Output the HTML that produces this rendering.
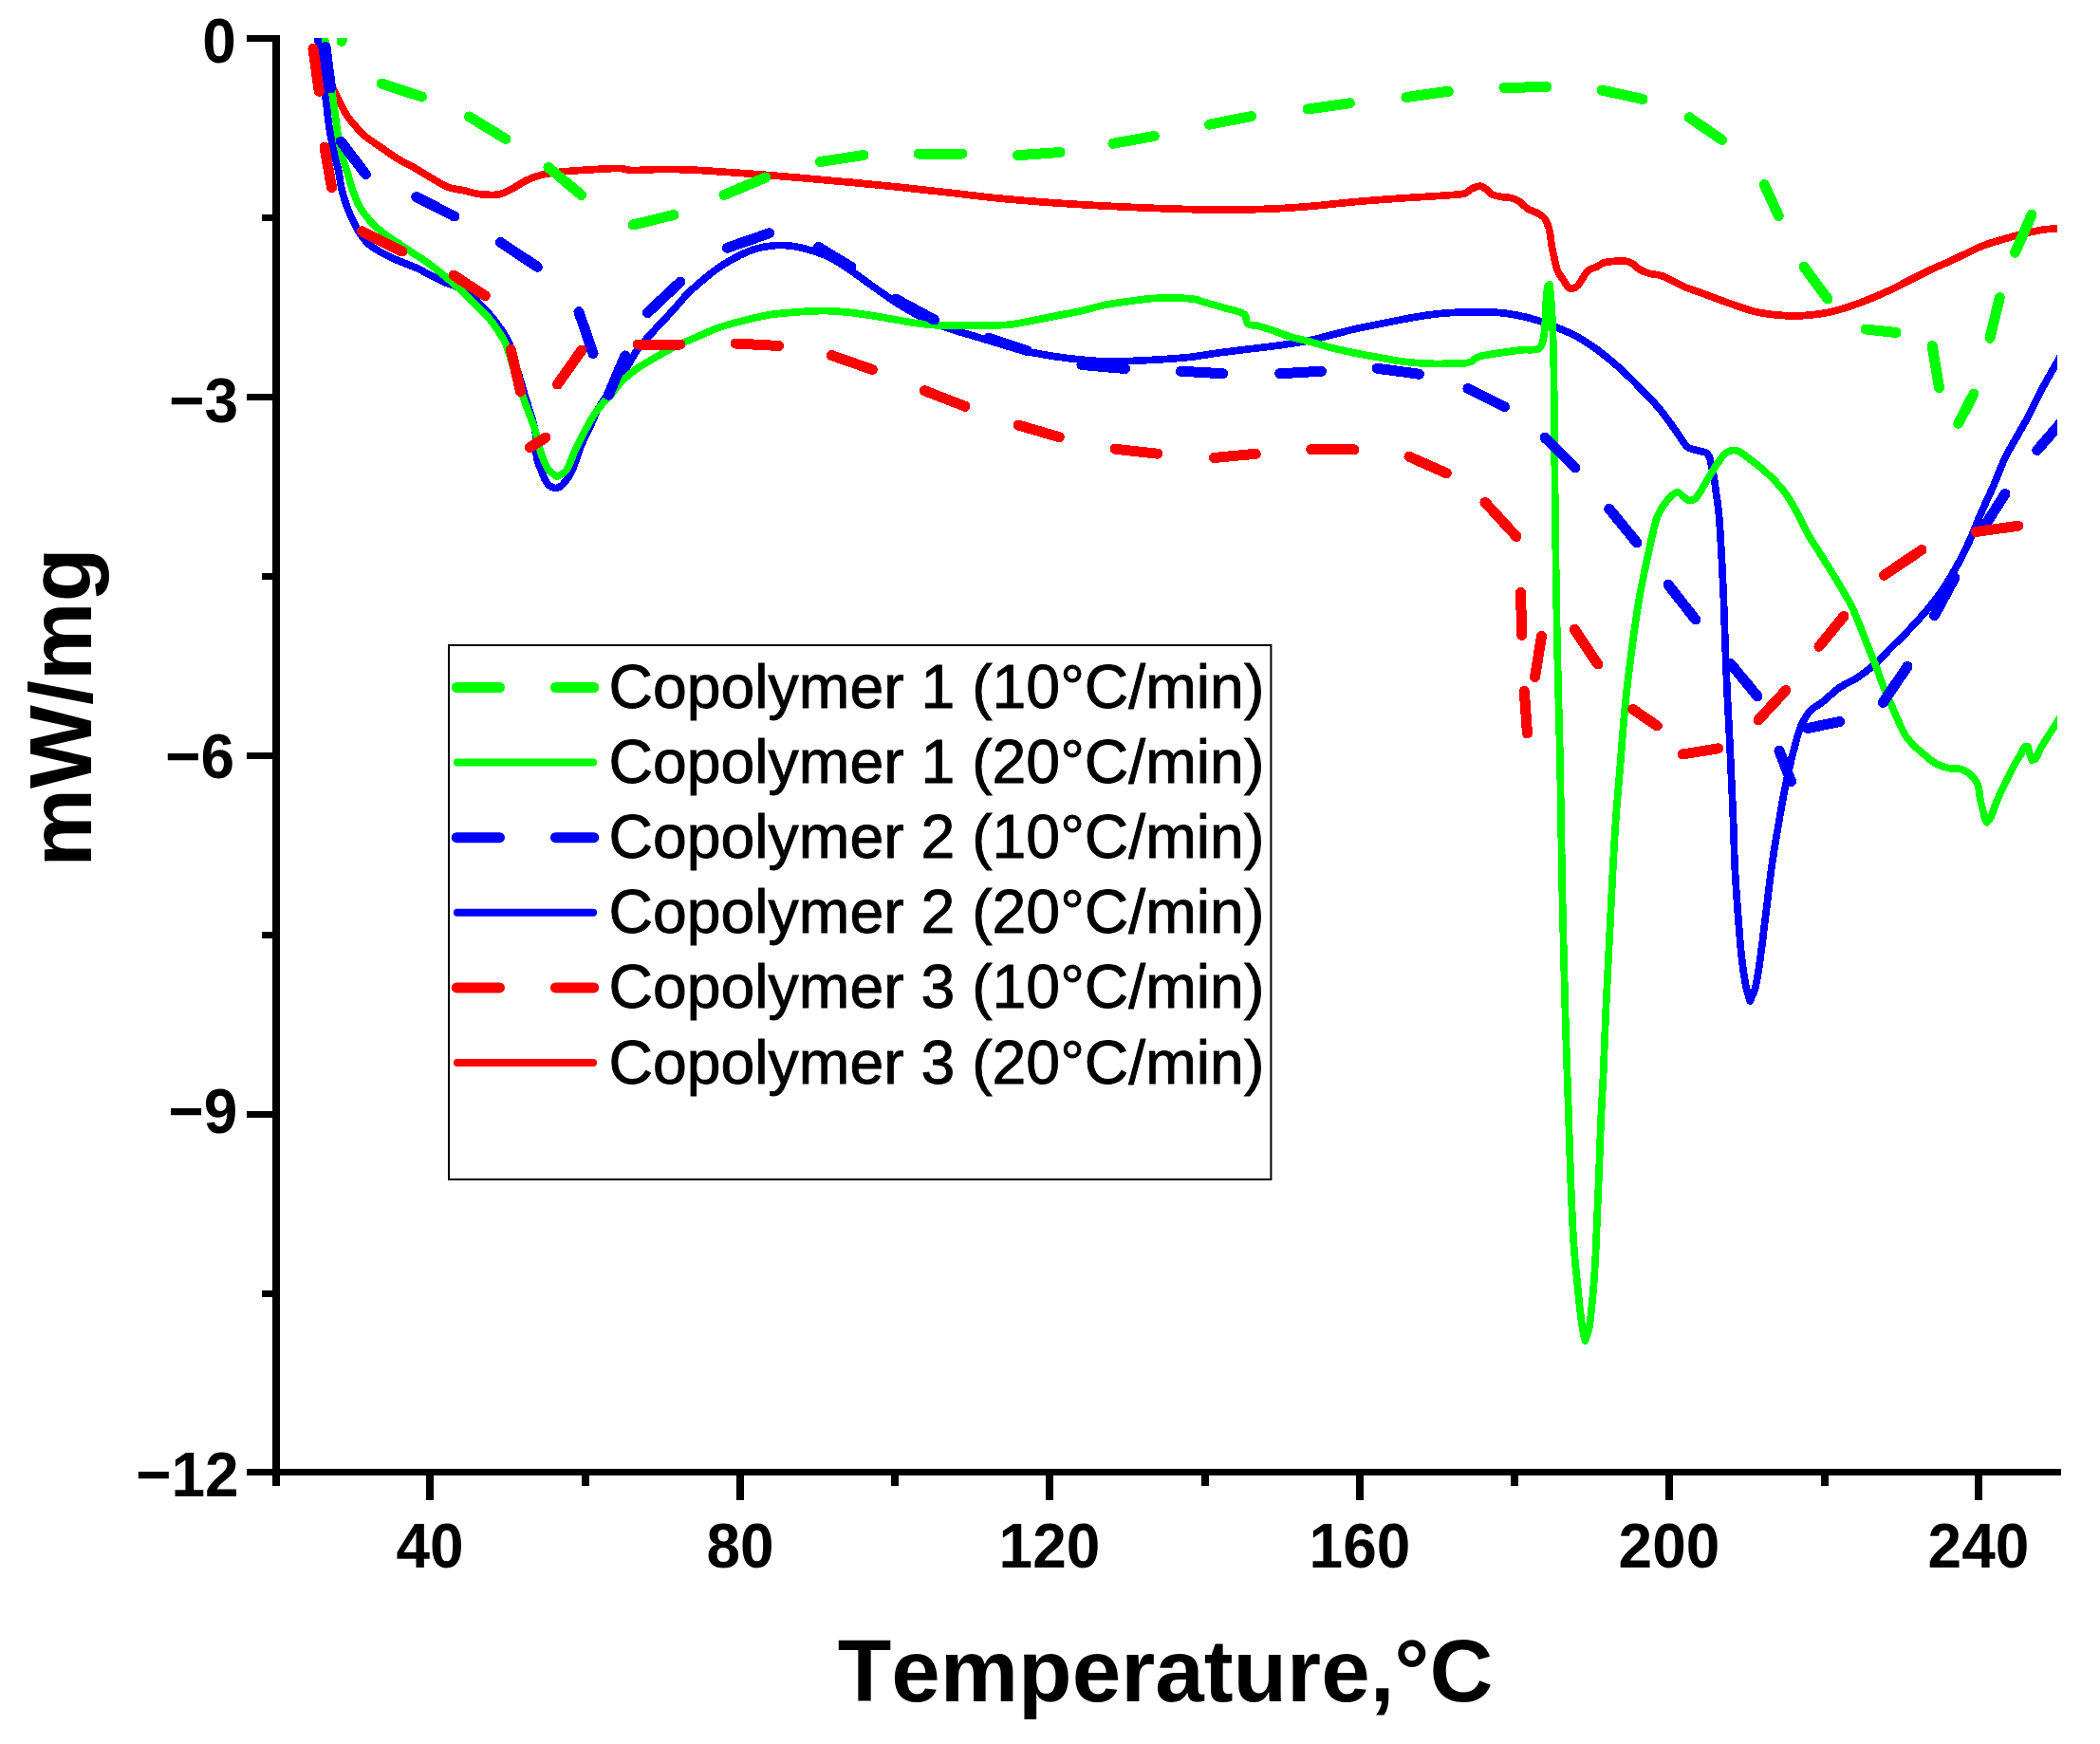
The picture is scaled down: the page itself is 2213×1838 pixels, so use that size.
<!DOCTYPE html>
<html lang="en"><head><meta charset="utf-8"><title>DSC curves</title>
<style>html,body{margin:0;padding:0;background:#fff}svg{display:block}text{font-family:"Liberation Sans",Arial,Helvetica,sans-serif;fill:#000;font-kerning:none}.b{font-weight:bold}</style></head><body>
<svg width="2213" height="1838" viewBox="0 0 2213 1838">
<rect width="2213" height="1838" fill="#fff"/>
<defs><clipPath id="pc"><rect x="291" y="40" width="1877" height="1512"/></clipPath></defs>
<g clip-path="url(#pc)" shape-rendering="crispEdges">
<path d="M337.5 30 C337.67 33.33 337.6 36.69 338 40 C338.6 45.03 339.49 50.03 340.5 55 C341.66 60.7 343.01 66.37 344.5 72 C346.18 78.34 347.78 84.73 350 90.9 C351.39 94.76 353.51 98.31 355.3 102 C356.68 104.84 358.01 107.71 359.5 110.5 C361.81 114.82 363.93 119.27 366.7 123.3 C369.52 127.4 372.86 131.11 376.2 134.8 C379.2 138.12 382.29 141.39 385.7 144.3 C388.65 146.81 392.02 148.79 395.2 151 C398.39 153.22 401.61 155.38 404.8 157.6 C407.98 159.81 411.05 162.18 414.3 164.3 C417.39 166.32 420.57 168.21 423.8 170 C426.91 171.72 430.19 173.09 433.3 174.8 C436.56 176.59 439.7 178.59 442.9 180.5 C446.07 182.39 449.23 184.3 452.4 186.2 C455.57 188.1 458.68 190.09 461.9 191.9 C465.38 193.86 468.71 196.23 472.5 197.5 C477.33 199.12 482.52 199.43 487.5 200.5 C493.35 201.76 499.06 203.79 505 204.5 C511.62 205.29 518.4 205.98 525 205 C529.88 204.28 534.33 201.71 538.75 199.5 C544.36 196.69 549.34 192.72 555 190 C559.8 187.7 564.83 185.79 570 184.5 C576.55 182.86 583.29 181.99 590 181.25 C599.97 180.15 609.99 179.59 620 179 C631.24 178.34 642.49 177.37 653.75 177.5 C657.56 177.54 661.19 179.41 665 179.5 C675 179.74 684.99 178.58 695 178.5 C705.83 178.41 716.67 178.58 727.5 179 C738.35 179.42 749.17 180.29 760 181 C773.34 181.87 786.68 182.71 800 183.75 C816.68 185.05 833.34 186.54 850 188 C866.67 189.46 883.34 190.92 900 192.5 C916.67 194.08 933.34 195.75 950 197.5 C966.68 199.25 983.34 201.13 1000 203 C1016.67 204.88 1033.31 207.08 1050 208.75 C1066.64 210.41 1083.32 211.75 1100 213 C1116.66 214.25 1133.33 215.29 1150 216.25 C1166.66 217.21 1183.33 218.04 1200 218.75 C1216.66 219.46 1233.33 220.05 1250 220.5 C1264.16 220.88 1278.33 221.33 1292.5 221.25 C1309.17 221.16 1325.84 220.71 1342.5 220 C1355.02 219.46 1367.52 218.57 1380 217.5 C1396.69 216.07 1413.31 213.96 1430 212.5 C1446.65 211.04 1463.33 209.92 1480 208.75 C1496.66 207.58 1513.35 206.81 1530 205.5 C1534.61 205.14 1539.35 205.15 1543.75 203.75 C1546.61 202.84 1548.52 200.01 1551.25 198.75 C1554 197.48 1556.97 196.1 1560 196.25 C1562.35 196.37 1564.33 198.15 1566.25 199.5 C1568.52 201.09 1570.01 203.77 1572.5 205 C1575.58 206.52 1579.12 206.87 1582.5 207.5 C1585.8 208.12 1589.25 207.88 1592.5 208.75 C1595.57 209.57 1598.58 210.78 1601.25 212.5 C1604.48 214.58 1606.76 217.93 1610 220 C1613.08 221.97 1616.83 222.69 1620 224.5 C1622.69 226.04 1625.65 227.52 1627.5 230 C1629.95 233.29 1631.42 237.29 1632.5 241.25 C1633.94 246.54 1634.06 252.1 1635 257.5 C1635.73 261.69 1636.56 265.86 1637.5 270 C1638.64 275.03 1639.34 280.21 1641.25 285 C1642.71 288.65 1645.37 291.69 1647.5 295 C1649.12 297.53 1650.46 300.29 1652.5 302.5 C1653.46 303.54 1654.84 304.68 1656.25 304.5 C1658.58 304.21 1660.8 302.87 1662.5 301.25 C1664.67 299.17 1665.79 296.22 1667.5 293.75 C1669.54 290.8 1671 287.29 1673.75 285 C1676.19 282.97 1679.65 282.65 1682.5 281.25 C1685.08 279.98 1687.27 277.9 1690 277 C1693.2 275.95 1696.64 275.8 1700 275.5 C1704.15 275.13 1708.35 274.59 1712.5 275 C1715.12 275.26 1717.72 276.17 1720 277.5 C1722.81 279.14 1724.71 282.08 1727.5 283.75 C1730.61 285.61 1734.02 286.98 1737.5 288 C1741.73 289.24 1746.3 289.14 1750.5 290.5 C1754.86 291.91 1758.87 294.27 1763 296.25 C1767.2 298.27 1771.2 300.71 1775.5 302.5 C1781.22 304.88 1787.18 306.62 1793 308.75 C1799.68 311.2 1806.32 313.8 1813 316.25 C1818.82 318.38 1824.62 320.54 1830.5 322.5 C1837.13 324.71 1843.69 327.18 1850.5 328.75 C1857.07 330.27 1863.8 331.04 1870.5 331.75 C1877.14 332.46 1883.82 332.96 1890.5 333 C1896.34 333.04 1902.19 332.58 1908 332 C1913.86 331.41 1919.72 330.66 1925.5 329.5 C1931.41 328.32 1937.24 326.77 1943 325 C1949.75 322.93 1956.42 320.56 1963 318 C1971.42 314.72 1979.79 311.28 1988 307.5 C1996.46 303.61 2004.66 299.15 2013 295 C2021.33 290.85 2029.58 286.56 2038 282.6 C2042.26 280.59 2046.7 279.01 2051 277.1 C2055.03 275.31 2059.01 273.38 2063 271.5 C2071.67 267.41 2080.09 262.75 2089 259.2 C2096.8 256.1 2104.97 254.03 2113 251.6 C2117.74 250.17 2122.51 248.84 2127.3 247.6 C2131.51 246.51 2135.74 245.48 2140 244.6 C2145.14 243.54 2150.29 242.49 2155.5 241.8 C2159.64 241.25 2163.83 241.16 2168 240.9 C2170.33 240.76 2172.67 240.7 2175 240.6" stroke="#ff0000" stroke-width="7.7" fill="none" stroke-linejoin="round" stroke-linecap="butt"/>
<path d="M334 30 C334.27 33.33 334.38 36.68 334.8 40 C337.58 62.09 340.74 84.12 343.6 106.2 C344.84 115.72 345.64 125.31 347.1 134.8 C348.57 144.35 350.39 153.85 352.4 163.3 C353.59 168.92 355.5 174.38 356.7 180 C358.04 186.29 358.52 192.74 360 199 C361.53 205.47 363.41 211.86 365.7 218.1 C367.85 223.95 370.5 229.62 373.3 235.2 C375.61 239.8 378.02 244.39 381 248.6 C383.45 252.07 386.27 255.34 389.5 258.1 C392.99 261.09 397.02 263.4 401 265.7 C405.3 268.18 409.79 270.32 414.3 272.4 C418.03 274.12 421.9 275.55 425.7 277.1 C430.46 279.05 435.34 280.72 440 282.9 C444.89 285.19 449.5 288.03 454.3 290.5 C458.7 292.76 463.07 295.12 467.6 297.1 C470.31 298.29 473.24 298.92 476 300 C478.71 301.06 481.43 302.13 484 303.5 C486.78 304.98 489.54 306.54 492 308.5 C496.73 312.26 501.16 316.39 505.5 320.6 C509.8 324.77 514.02 329.04 517.9 333.6 C521.46 337.79 524.75 342.23 527.8 346.8 C530.85 351.37 534.04 355.94 536.2 361 C538.94 367.42 540.35 374.33 542.4 381 C544.48 387.76 546.57 394.52 548.6 401.3 C550.77 408.52 552.79 415.79 555 423 C556.59 428.19 558.53 433.27 560 438.5 C561.63 444.28 563.53 450.04 564.3 456 C565.43 464.74 564.35 473.69 565.7 482.4 C566.44 487.15 568.71 491.54 570.5 496 C572.23 500.33 573.31 505.13 576.25 508.75 C578.54 511.57 581.87 514.35 585.5 514.5 C588.78 514.64 591.76 511.91 594 509.5 C597.65 505.58 600.46 500.86 602.7 496 C606.86 486.99 609.3 477.27 613.1 468.1 C615.8 461.59 619.25 455.41 622.2 449 C624.65 443.67 626.57 438.09 629.3 432.9 C631.85 428.06 634.93 423.52 638 419 C640.97 414.62 644.32 410.5 647.4 406.2 C651.48 400.5 655.71 394.9 659.5 389 C663.72 382.42 666.92 375.2 671.4 368.8 C675.05 363.59 679.59 359.06 683.8 354.3 C687.22 350.43 690.78 346.69 694.3 342.9 C699.05 337.79 703.91 332.77 708.6 327.6 C713.44 322.27 717.9 316.58 722.9 311.4 C727.41 306.74 732.17 302.32 737.1 298.1 C743.28 292.81 749.54 287.57 756.2 282.9 C762.26 278.65 768.65 274.84 775.2 271.4 C781.37 268.16 787.67 265.06 794.3 262.9 C800.45 260.9 806.89 259.83 813.3 259 C818.03 258.39 822.84 258.35 827.6 258.6 C832.4 258.85 837.18 259.56 841.9 260.5 C846.74 261.46 851.5 262.82 856.2 264.3 C861.04 265.82 865.82 267.54 870.5 269.5 C873.77 270.87 876.97 272.45 880 274.3 C886.82 278.46 893.44 282.95 900 287.5 C908.44 293.35 916.59 299.61 925 305.5 C933.26 311.28 941.42 317.22 950 322.5 C958.1 327.48 966.41 332.17 975 336.25 C983.11 340.1 991.53 343.29 1000 346.25 C1008.21 349.12 1016.67 351.25 1025 353.75 C1033.33 356.25 1041.67 358.75 1050 361.25 C1058.33 363.75 1066.56 366.64 1075 368.75 C1083.24 370.81 1091.63 372.29 1100 373.75 C1108.3 375.2 1116.64 376.45 1125 377.5 C1133.31 378.54 1141.65 379.37 1150 380 C1158.32 380.62 1166.66 381.25 1175 381.25 C1183.34 381.25 1191.67 380.42 1200 380 C1208.33 379.58 1216.68 379.32 1225 378.75 C1235.01 378.07 1245.03 377.38 1255 376.25 C1263.37 375.3 1271.65 373.67 1280 372.5 C1288.32 371.33 1296.66 370.29 1305 369.25 C1313.33 368.21 1321.67 367.29 1330 366.25 C1338.34 365.21 1346.69 364.25 1355 363 C1363.36 361.75 1371.73 360.49 1380 358.75 C1388.41 356.98 1396.67 354.58 1405 352.5 C1413.33 350.42 1421.62 348.14 1430 346.25 C1438.29 344.38 1446.67 342.92 1455 341.25 C1463.33 339.58 1471.64 337.8 1480 336.25 C1488.31 334.71 1496.62 333.13 1505 332 C1513.3 330.88 1521.64 330.04 1530 329.5 C1538.32 328.96 1546.66 328.75 1555 328.75 C1563.34 328.75 1571.69 328.81 1580 329.5 C1586.72 330.06 1593.39 331.18 1600 332.5 C1606.74 333.85 1613.44 335.45 1620 337.5 C1626.8 339.62 1633.4 342.32 1640 345 C1646.74 347.74 1653.57 350.34 1660 353.75 C1666.94 357.44 1673.58 361.71 1680 366.25 C1686.93 371.15 1693.53 376.51 1700 382 C1706.21 387.27 1712.16 392.83 1718 398.5 C1723.83 404.17 1729.38 410.12 1735 416 C1739.42 420.62 1743.94 425.14 1748.1 430 C1751.49 433.96 1754.5 438.21 1757.6 442.4 C1760.84 446.78 1763.99 451.23 1767.1 455.7 C1769.72 459.46 1772.01 463.46 1774.8 467.1 C1776.16 468.88 1777.53 470.83 1779.5 471.9 C1782.41 473.48 1785.83 473.85 1789 474.8 C1792.19 475.75 1795.82 475.77 1798.6 477.6 C1800.43 478.81 1801.15 481.24 1801.9 483.3 C1802.9 486.06 1803.2 489.03 1803.8 491.9 C1804.8 496.66 1805.89 501.4 1806.7 506.2 C1807.5 510.94 1807.96 515.73 1808.6 520.5 C1809.48 527 1810.66 533.47 1811.25 540 C1812.38 552.48 1813.04 564.99 1813.75 577.5 C1814.7 594.16 1815.54 610.83 1816.25 627.5 C1816.96 644.16 1817.38 660.83 1818 677.5 C1818.63 694.17 1819.24 710.84 1820 727.5 C1820.57 740 1821.37 752.5 1822 765 C1822.62 777.5 1823.17 790 1823.75 802.5 C1824.33 815 1824.95 827.5 1825.5 840 C1826.03 852 1826.57 864 1827 876 C1827.4 887.33 1827.43 898.68 1828 910 C1828.84 926.68 1830 943.34 1831.25 960 C1832.5 976.68 1833.68 993.37 1835.5 1010 C1836.6 1020.05 1838.07 1030.07 1840 1040 C1840.99 1045.1 1842.83 1050 1844.25 1055 C1846.17 1050 1848.76 1045.21 1850 1040 C1852.36 1030.14 1853.59 1020.04 1855 1010 C1857.34 993.37 1859.17 976.67 1861.25 960 C1863.33 943.33 1865.17 926.63 1867.5 910 C1869.09 898.63 1871.1 887.32 1873 876 C1875.02 863.99 1876.98 851.97 1879.25 840 C1881.15 829.96 1883.24 819.96 1885.5 810 C1887.4 801.62 1889.45 793.28 1891.75 785 C1893.62 778.27 1895.14 771.37 1898 765 C1900.6 759.2 1903.75 753.48 1908 748.75 C1911.4 744.97 1916.51 743.16 1920.5 740 C1926.52 735.23 1931.71 729.41 1938 725 C1944.27 720.61 1951.64 717.99 1958 713.75 C1964.17 709.63 1969.97 704.94 1975.5 700 C1981.65 694.51 1987.17 688.33 1993 682.5 C1999.67 675.83 2006.54 669.37 2013 662.5 C2019.88 655.19 2026.62 647.75 2033 640 C2038.3 633.57 2043.38 626.93 2048 620 C2053.39 611.91 2058.32 603.52 2063 595 C2067.49 586.84 2071.64 578.48 2075.5 570 C2079.98 560.14 2083.68 549.93 2088 540 C2092.01 530.77 2096.49 521.73 2100.5 512.5 C2104.82 502.57 2108.34 492.28 2113 482.5 C2116.69 474.75 2121.31 467.49 2125.5 460 C2129.23 453.32 2133.19 446.77 2136.75 440 C2141.52 430.93 2145.74 421.57 2150.5 412.5 C2154.49 404.9 2158.81 397.49 2163 390 C2164.64 387.07 2166.33 384.17 2168 381.25 C2170.33 377.17 2172.67 373.08 2175 369" stroke="#0000ff" stroke-width="7.7" fill="none" stroke-linejoin="round" stroke-linecap="butt"/>
<path d="M341 30 C341.47 33.33 341.96 36.66 342.4 40 C344.96 59.16 347.48 78.33 350 97.5 C350.38 100.4 350.7 103.3 351.1 106.2 C351.97 112.54 352.92 118.86 353.8 125.2 C354.69 131.56 355.26 137.98 356.4 144.3 C357.83 152.25 359.5 160.17 361.5 168 C362.54 172.09 364.24 175.98 365.5 180 C367.47 186.31 369.03 192.76 371.2 199 C373.23 204.83 375.31 210.69 378.1 216.2 C380.17 220.27 382.89 224 385.7 227.6 C388.6 231.32 391.78 234.84 395.2 238.1 C398.8 241.53 402.7 244.65 406.7 247.6 C411.31 250.99 416.25 253.91 421 257.1 C425.75 260.28 430.45 263.52 435.2 266.7 C439.95 269.89 444.83 272.89 449.5 276.2 C454.37 279.66 459.13 283.28 463.8 287 C468.67 290.88 473.42 294.89 478.1 299 C482.16 302.56 486.09 306.27 490 310 C494.49 314.28 498.94 318.59 503.3 323 C507.51 327.26 511.84 331.42 515.7 336 C519.16 340.1 522.27 344.5 525.2 349 C528.01 353.32 530.88 357.66 532.9 362.4 C535.6 368.72 537.16 375.47 539.3 382 C541.49 388.67 543.7 395.33 545.9 402 C548.24 409.1 550.45 416.24 552.9 423.3 C554.68 428.44 556.73 433.49 558.6 438.6 C560.6 444.06 562.84 449.43 564.5 455 C566.81 462.78 567.9 470.91 570.5 478.6 C572.42 484.3 574.58 490.05 578 495 C580.22 498.21 584 500 587 502.5 C590.17 500.33 594.37 499.19 596.5 496 C601.16 488.99 603.1 480.51 606.7 472.9 C609.73 466.5 613.04 460.24 616.4 454 C619.38 448.47 622.26 442.86 625.7 437.6 C628.55 433.24 631.86 429.19 635.2 425.2 C638.23 421.58 641.74 418.39 644.8 414.8 C648.11 410.92 650.85 406.56 654.3 402.8 C656.94 399.93 660 397.48 663 395 C666.34 392.24 669.68 389.47 673.3 387.1 C679.5 383.03 685.97 379.39 692.4 375.7 C698.67 372.09 704.92 368.43 711.4 365.2 C717.64 362.09 724.12 359.49 730.5 356.7 C735.32 354.59 740.17 352.57 745 350.5 C748.73 348.9 752.36 347.03 756.2 345.7 C762.45 343.53 768.83 341.76 775.2 340 C781.53 338.26 787.9 336.65 794.3 335.2 C800.6 333.78 806.91 332.36 813.3 331.4 C819.63 330.45 826.03 330.05 832.4 329.5 C838.73 328.95 845.06 328.42 851.4 328.1 C857.76 327.78 864.13 327.48 870.5 327.6 C877.01 327.72 883.52 328.16 890 328.8 C898.36 329.63 906.69 330.76 915 332 C923.36 333.25 931.67 334.83 940 336.25 C948.33 337.67 956.62 339.37 965 340.5 C973.3 341.62 981.64 342.58 990 343 C998.32 343.42 1006.67 343 1015 343 C1023.33 343 1031.67 343.17 1040 343 C1048.34 342.83 1056.71 342.91 1065 342 C1073.42 341.07 1081.68 339.08 1090 337.5 C1098.35 335.91 1106.67 334.17 1115 332.5 C1123.33 330.83 1131.71 329.37 1140 327.5 C1148.38 325.61 1156.58 322.93 1165 321.25 C1173.26 319.6 1181.65 318.63 1190 317.5 C1198.32 316.38 1206.63 315.09 1215 314.5 C1223.31 313.92 1231.67 313.81 1240 314 C1246.68 314.15 1253.38 314.54 1260 315.5 C1262.61 315.88 1264.98 317.24 1267.5 318 C1274.98 320.24 1282.53 322.24 1290 324.5 C1297.11 326.65 1305.08 327.11 1311.25 331.25 C1314.21 333.23 1312.32 338.91 1315 341.25 C1317.56 343.49 1321.72 342.36 1325 343.25 C1330.9 344.86 1336.7 346.8 1342.5 348.75 C1348.37 350.72 1354.07 353.22 1360 355 C1366.58 356.97 1373.36 358.23 1380 360 C1388.36 362.23 1396.6 364.9 1405 367 C1413.28 369.07 1421.63 370.83 1430 372.5 C1438.3 374.16 1446.66 375.54 1455 377 C1463.33 378.46 1471.61 380.2 1480 381.25 C1488.3 382.29 1496.65 382.92 1505 383.25 C1513.33 383.58 1521.67 383.31 1530 383.25 C1534.17 383.22 1538.35 383.41 1542.5 383 C1545.05 382.74 1547.66 382.3 1550 381.25 C1552.74 380.02 1554.63 377.14 1557.5 376.25 C1564.79 374 1572.46 373.19 1580 372 C1588.3 370.69 1596.64 369.59 1605 368.75 C1609.98 368.25 1615.22 369.49 1620 368 C1622.36 367.26 1624.05 364.79 1625 362.5 C1626.63 358.58 1626.97 354.22 1627.5 350 C1628.23 344.2 1628.42 338.34 1628.75 332.5 C1629.08 326.67 1629.03 320.82 1629.5 315 C1629.87 310.39 1630.2 305.75 1631.25 301.25 C1631.41 300.55 1632.42 300.42 1633 300 C1633.5 305 1634.14 309.99 1634.5 315 C1635.22 324.99 1635.87 334.99 1636.25 345 C1636.87 361.66 1637.24 378.33 1637.5 395 C1637.82 415.33 1637.79 435.67 1638 456 C1638.46 500.67 1638.88 545.33 1639.5 590 C1639.96 623.34 1640.54 656.67 1641.25 690 C1641.96 723.34 1643.01 756.66 1643.75 790 C1644.26 813.33 1644.6 836.67 1645 860 C1645.43 885 1645.75 910 1646.25 935 C1646.75 960 1647.38 985 1648 1010 C1648.63 1035 1649.25 1060 1650 1085 C1650.75 1110 1651.68 1135 1652.5 1160 C1653.34 1185.67 1654.07 1211.34 1655 1237 C1655.6 1253.67 1656.27 1270.34 1657.1 1287 C1657.7 1299.01 1658.37 1311.01 1659.3 1323 C1660.04 1332.48 1661.15 1341.93 1662.1 1351.4 C1663.05 1360.93 1663.9 1370.48 1665 1380 C1665.83 1387.15 1666.73 1394.3 1667.9 1401.4 C1668.54 1405.27 1669.57 1409.07 1670.4 1412.9 C1671.7 1409.07 1673.49 1405.37 1674.3 1401.4 C1675.74 1394.35 1676.33 1387.15 1677.1 1380 C1678.13 1370.48 1678.98 1360.95 1679.7 1351.4 C1680.41 1341.94 1680.93 1332.47 1681.4 1323 C1682 1311 1682.4 1299 1682.9 1287 C1683.6 1270.33 1684.35 1253.67 1685 1237 C1685.75 1218 1686.26 1198.99 1687.1 1180 C1687.76 1164.99 1688.82 1150.01 1689.5 1135 C1690.62 1110.01 1691.38 1084.99 1692.5 1060 C1693.63 1034.99 1695 1010 1696.25 985 C1697.5 960 1698.65 934.99 1700 910 C1700.9 893.33 1701.82 876.65 1703 860 C1704.07 844.99 1705.5 830 1706.75 815 C1708.83 790 1710.5 764.96 1713 740 C1715.09 719.12 1717.73 698.3 1720.5 677.5 C1722.73 660.79 1725.08 644.1 1728 627.5 C1730.5 613.25 1733.66 599.13 1736.75 585 C1739.49 572.46 1741.7 559.76 1745.5 547.5 C1747.15 542.16 1749.9 537.15 1753 532.5 C1755.78 528.33 1759.25 524.58 1763 521.25 C1764.51 519.91 1766.53 518.31 1768.5 518.75 C1770.98 519.3 1772.2 522.25 1774.25 523.75 C1776.21 525.18 1778.07 527.5 1780.5 527.5 C1783.3 527.5 1786.16 525.85 1788 523.75 C1792.19 518.96 1794.65 512.9 1798 507.5 C1802.15 500.82 1805.91 493.88 1810.5 487.5 C1813.43 483.43 1816.25 478.91 1820.5 476.25 C1823.35 474.47 1827.24 474.19 1830.5 475 C1834.31 475.95 1837.3 478.97 1840.5 481.25 C1845.48 484.81 1850.33 488.54 1855 492.5 C1860.17 496.89 1865.31 501.35 1870 506.25 C1874.5 510.95 1878.8 515.89 1882.5 521.25 C1887.17 528.02 1891.06 535.29 1895 542.5 C1898.57 549.04 1901.35 556 1905 562.5 C1908.85 569.35 1913.33 575.83 1917.5 582.5 C1921.67 589.17 1925.89 595.8 1930 602.5 C1933.56 608.3 1937.06 614.13 1940.5 620 C1943.9 625.8 1947.5 631.49 1950.5 637.5 C1953.75 644.01 1956.48 650.77 1959.25 657.5 C1962.31 664.94 1965.05 672.51 1968 680 C1971.3 688.35 1974.79 696.62 1978 705 C1980.39 711.22 1982.32 717.61 1984.8 723.8 C1987.76 731.19 1991.11 738.41 1994.3 745.7 C1996.81 751.44 1999.24 757.22 2001.9 762.9 C2004.01 767.39 2005.81 772.1 2008.6 776.2 C2011.26 780.1 2014.76 783.36 2018.1 786.7 C2021.1 789.7 2024.37 792.44 2027.6 795.2 C2030.7 797.84 2033.68 800.68 2037.1 802.9 C2040.09 804.84 2043.36 806.36 2046.7 807.6 C2049.76 808.74 2052.97 809.51 2056.2 810 C2059.33 810.48 2062.6 809.81 2065.7 810.5 C2068.4 811.1 2071 812.27 2073.3 813.8 C2075.83 815.48 2078.13 817.6 2080 820 C2082.01 822.59 2083.84 825.46 2084.8 828.6 C2086.11 832.88 2085.86 837.5 2086.7 841.9 C2087.43 845.74 2088.56 849.5 2089.5 853.3 C2090.29 856.5 2090.89 859.76 2091.9 862.9 C2092.33 864.25 2093.17 865.43 2093.8 866.7 C2095.23 864.8 2097.08 863.15 2098.1 861 C2100.14 856.72 2101.14 852.01 2102.9 847.6 C2104.95 842.47 2107.17 837.41 2109.5 832.4 C2111.61 827.87 2113.96 823.46 2116.2 819 C2118.43 814.56 2120.48 810.03 2122.9 805.7 C2124.92 802.09 2127.47 798.8 2129.5 795.2 C2130.95 792.63 2131.29 789.37 2133.3 787.2 C2134.16 786.27 2135.83 787.07 2137.1 787 C2137.73 789.43 2138.33 791.88 2139 794.3 C2139.63 796.55 2140.33 798.77 2141 801 C2142.27 800.67 2144 801.04 2144.8 800 C2147.38 796.63 2148.43 792.31 2150.5 788.6 C2152.86 784.37 2155.53 780.31 2158.1 776.2 C2161.29 771.11 2164.59 766.08 2167.8 761 C2170.22 757.18 2172.6 753.33 2175 749.5" stroke="#00ff00" stroke-width="7.7" fill="none" stroke-linejoin="round" stroke-linecap="butt"/>
<path d="M360 28 L360 43.5 M402 88 L444.5 102 M494.5 123 L533 146.5 M578 176.5 L612.5 205.5 M667 237 L710 226.5 M763 205.5 L807 187 M864.25 170.5 L910 163.5 M968 162 L1013.75 162 M1072.5 163.75 L1117 160.5 M1173 151.25 L1216.25 143.5 M1274.5 131.25 L1318.75 122.5 M1378 115 L1422.5 108.75 M1482 102.5 L1526.25 96.25 M1585 92.5 L1630 91.5 M1688 95 L1731 104.5 M1780 123.75 L1814.75 147.5 M1859.25 194.5 L1874.25 227.5 M1901 281.25 L1926 315 M1966 347 L1998 350.5 M2036.25 364.5 L2043.5 408.75 M2063.75 446.25 L2080 415 M2097 356.25 L2107.25 313.75 M2123.5 266.25 L2141 226.25" stroke="#00ff00" stroke-width="11" fill="none" stroke-linejoin="round" stroke-linecap="round"/>
<path d="M343 49.5 L348.6 93 M359.25 149.25 L385.5 183.75 M438.75 207.5 L478.75 228 M527.5 255.5 L566.25 281.25 M610 328.75 L625 372.5 M641.25 416.25 L658.75 375 M682.5 329.5 L717 297 M766.25 261.25 L810.75 245.75 M862.5 260.5 L897 281.25 M943.75 315 L984.5 337 M1042 356.25 L1082 369.5 M1140 384.5 L1185.5 388.5 M1244.25 391.25 L1288.75 393.75 M1348.75 393.75 L1392.5 391.25 M1451.25 388.25 L1495.5 394.25 M1547 409.5 L1585.5 428.75 M1628 461.25 L1660 493 M1695.75 536.25 L1725 572 M1758 616.25 L1786.75 653 M1823.75 699.5 L1852 733.75 M1875 791.25 L1887.5 823.75 M1905 767.5 L1938.75 760.5 M1984.25 740.5 L2010 702.5 M2038.5 648.75 L2060 608.75 M2091 555 L2113 520.5 M2146.75 474.5 L2174 443" stroke="#0000ff" stroke-width="11" fill="none" stroke-linejoin="round" stroke-linecap="round"/>
<path d="M330 51.25 L336.25 96.25 M342 155 L349.5 197.5 M381.25 243.75 L423.75 265 M478 290 L511.25 311.75 M538.4 368.4 L548.5 412.6 M558.5 471.5 L574.8 461.2 M587.5 405 L613 369 M672 363 L717 363 M775 362 L820.75 364.5 M876.25 374.5 L919.25 389.5 M974.25 411.75 L1017 428.25 M1073 448 L1116.25 460.75 M1175 473.25 L1220 478.25 M1279.25 482.5 L1323.25 478.25 M1381.75 473.75 L1427 473.75 M1485 481.25 L1524.25 498.75 M1565 529.5 L1598 565.5 M1602.5 624.5 L1603.75 669.5 M1606.25 728.25 L1609.5 773 M1617.5 713.75 L1624.5 670.5 M1659.25 663.25 L1683.75 700 M1720.75 747.5 L1746.25 765 M1773 795 L1810.75 788.75 M1853 758.75 L1882 727.5 M1917 681.25 L1943 649.5 M1985.5 606.25 L2025 579.5 M2082.25 560.5 L2126.75 554.25" stroke="#ff0000" stroke-width="11" fill="none" stroke-linejoin="round" stroke-linecap="round"/>
</g>
<path d="M291 37 V1555 M453 1551.5 V1581 M780 1551.5 V1581 M1106 1551.5 V1581 M1433 1551.5 V1581 M1759 1551.5 V1581 M2085 1551.5 V1581 M617 1551.5 V1566 M943 1551.5 V1566 M1270 1551.5 V1566 M1596 1551.5 V1566 M1922.5 1551.5 V1566 M291 1551.5 V1566" stroke="#000" stroke-width="8" fill="none" shape-rendering="crispEdges"/>
<path d="M287 1551.5 H2171.5 M291 40.5 H260 M291 418.5 H260 M291 796.5 H260 M291 1174.5 H260 M291 1551.5 H260 M291 229.5 H276 M291 607.5 H276 M291 985.5 H276 M291 1363 H276" stroke="#000" stroke-width="7" fill="none" shape-rendering="crispEdges"/>
<text class="b" transform="translate(248.9 66.1) scale(1 1.045)" font-size="64" text-anchor="end">0</text>
<text class="b" transform="translate(251 445.2) scale(1 1.045)" font-size="64" text-anchor="end">−3</text>
<text class="b" transform="translate(247 820.2) scale(1 1.045)" font-size="64" text-anchor="end">−6</text>
<text class="b" transform="translate(250.3 1194.2) scale(1 1.045)" font-size="64" text-anchor="end">−9</text>
<text class="b" transform="translate(251.6 1576.8) scale(1 1.045)" font-size="64" text-anchor="end">−12</text>
<text class="b" transform="translate(453 1652.3) scale(1 1.045)" font-size="64" text-anchor="middle">40</text>
<text class="b" transform="translate(780 1652.3) scale(1 1.045)" font-size="64" text-anchor="middle">80</text>
<text class="b" transform="translate(1106 1652.3) scale(1 1.045)" font-size="64" text-anchor="middle">120</text>
<text class="b" transform="translate(1433 1652.3) scale(1 1.045)" font-size="64" text-anchor="middle">160</text>
<text class="b" transform="translate(1759 1652.3) scale(1 1.045)" font-size="64" text-anchor="middle">200</text>
<text class="b" transform="translate(2085 1652.3) scale(1 1.045)" font-size="64" text-anchor="middle">240</text>
<text class="b" x="1228" y="1792.7" font-size="92.6" text-anchor="middle">Temperature,°C</text>
<text class="b" transform="translate(95.5 745.6) rotate(-90)" font-size="93.2" text-anchor="middle">mW/mg</text>
<rect x="473" y="680" width="866.4" height="563" fill="#fff" stroke="#000" stroke-width="2"/>
<path d="M481.2 724.5 H526.5 M585.4 724.5 H625.8" stroke="#00ff00" stroke-width="11" stroke-linecap="round" fill="none"/>
<text x="641.5" y="745.7" font-size="64.35" stroke="#000" stroke-width="0.9">Copolymer 1 (10°C/min)</text>
<path d="M481.9 803.6 H625.1" stroke="#00ff00" stroke-width="8" stroke-linecap="round" fill="none"/>
<text x="641.5" y="824.86" font-size="64.35" stroke="#000" stroke-width="0.9">Copolymer 1 (20°C/min)</text>
<path d="M481.2 882.7 H526.5 M585.4 882.7 H625.8" stroke="#0000ff" stroke-width="11" stroke-linecap="round" fill="none"/>
<text x="641.5" y="904.02" font-size="64.35" stroke="#000" stroke-width="0.9">Copolymer 2 (10°C/min)</text>
<path d="M481.9 961.8 H625.1" stroke="#0000ff" stroke-width="8" stroke-linecap="round" fill="none"/>
<text x="641.5" y="983.18" font-size="64.35" stroke="#000" stroke-width="0.9">Copolymer 2 (20°C/min)</text>
<path d="M481.2 1040.9 H526.5 M585.4 1040.9 H625.8" stroke="#ff0000" stroke-width="11" stroke-linecap="round" fill="none"/>
<text x="641.5" y="1062.34" font-size="64.35" stroke="#000" stroke-width="0.9">Copolymer 3 (10°C/min)</text>
<path d="M481.9 1120 H625.1" stroke="#ff0000" stroke-width="8" stroke-linecap="round" fill="none"/>
<text x="641.5" y="1141.5" font-size="64.35" stroke="#000" stroke-width="0.9">Copolymer 3 (20°C/min)</text>
</svg></body></html>
